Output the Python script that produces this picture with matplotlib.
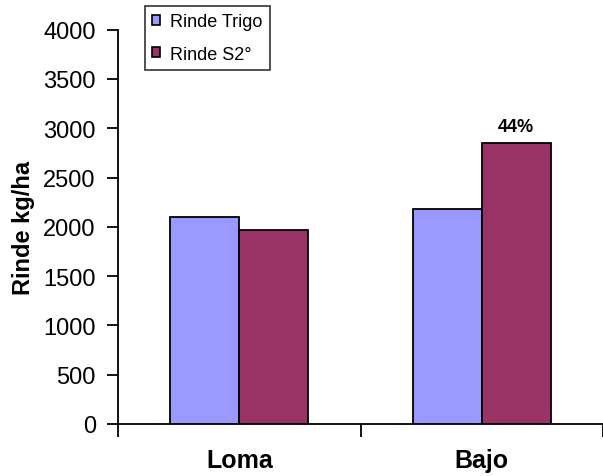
import numpy as np
import matplotlib.pyplot as plt

plt.rcParams['font.family'] = ['Liberation Sans', 'DejaVu Sans']

sitios = ['Loma', 'Bajo']
rinde_trigo = [2100, 2180]
rinde_s2 = [1970, 2850]
incremento = ['', '44%']

W, H = 603, 477
fig = plt.figure(figsize=(W / 100, H / 100), dpi=100)
left, right, bottom, top = 118, 603, 425, 30.6
ax = fig.add_axes([left / W, 1 - bottom / H, (right - left) / W, (bottom - top) / H])

x = np.arange(len(sitios)) + 0.5
bw = 0.285
ax.bar(x - bw / 2, rinde_trigo, bw, color='#9999FF', edgecolor='black', linewidth=1.3,
       label='Rinde Trigo', zorder=3)
ax.bar(x + bw / 2, rinde_s2, bw, color='#993366', edgecolor='black', linewidth=1.3,
       label='Rinde S2°', zorder=3)

# porcentaje de aumento sobre la barra de segunda
for xi, v, t in zip(x, rinde_s2, incremento):
    if t:
        ax.text(xi + bw / 2, v + 172, t, ha='center', va='center', fontsize=13, fontweight='bold')

ax.set_ylim(0, 4000)
ax.set_yticks(np.arange(0, 4001, 500))
ax.set_xlim(0, (right - left) / 246)
ax.set_xticks([0, 1, 2])
ax.set_xticklabels([])
ax.set_xticks(x, minor=True)
ax.set_xticklabels(sitios, minor=True, fontsize=18, fontweight='bold')
ax.tick_params(axis='x', which='minor', length=0, pad=17)
ax.tick_params(axis='x', which='major', length=9, width=1.3, direction='out')
ax.tick_params(axis='y', length=8, width=1.3, direction='out', labelsize=17, pad=8)

for s in ['top', 'right']:
    ax.spines[s].set_visible(False)
for s in ['left', 'bottom']:
    ax.spines[s].set_linewidth(1.3)

ax.set_ylabel('Rinde kg/ha', fontsize=17, fontweight='bold', labelpad=6)

leg = ax.legend(loc='upper left', bbox_to_anchor=((145 - left) / (right - left), 1 + (top - 7) / (bottom - top)),
                fontsize=13, frameon=True, fancybox=False, edgecolor='black',
                handlelength=0.45, handleheight=0.45, handletextpad=0.55, borderpad=0.4,
                labelspacing=0.85, borderaxespad=0)
leg.get_frame().set_linewidth(1.2)
for p in leg.get_patches():
    p.set_linewidth(1.2)

fig.savefig('out.png', dpi=100)
